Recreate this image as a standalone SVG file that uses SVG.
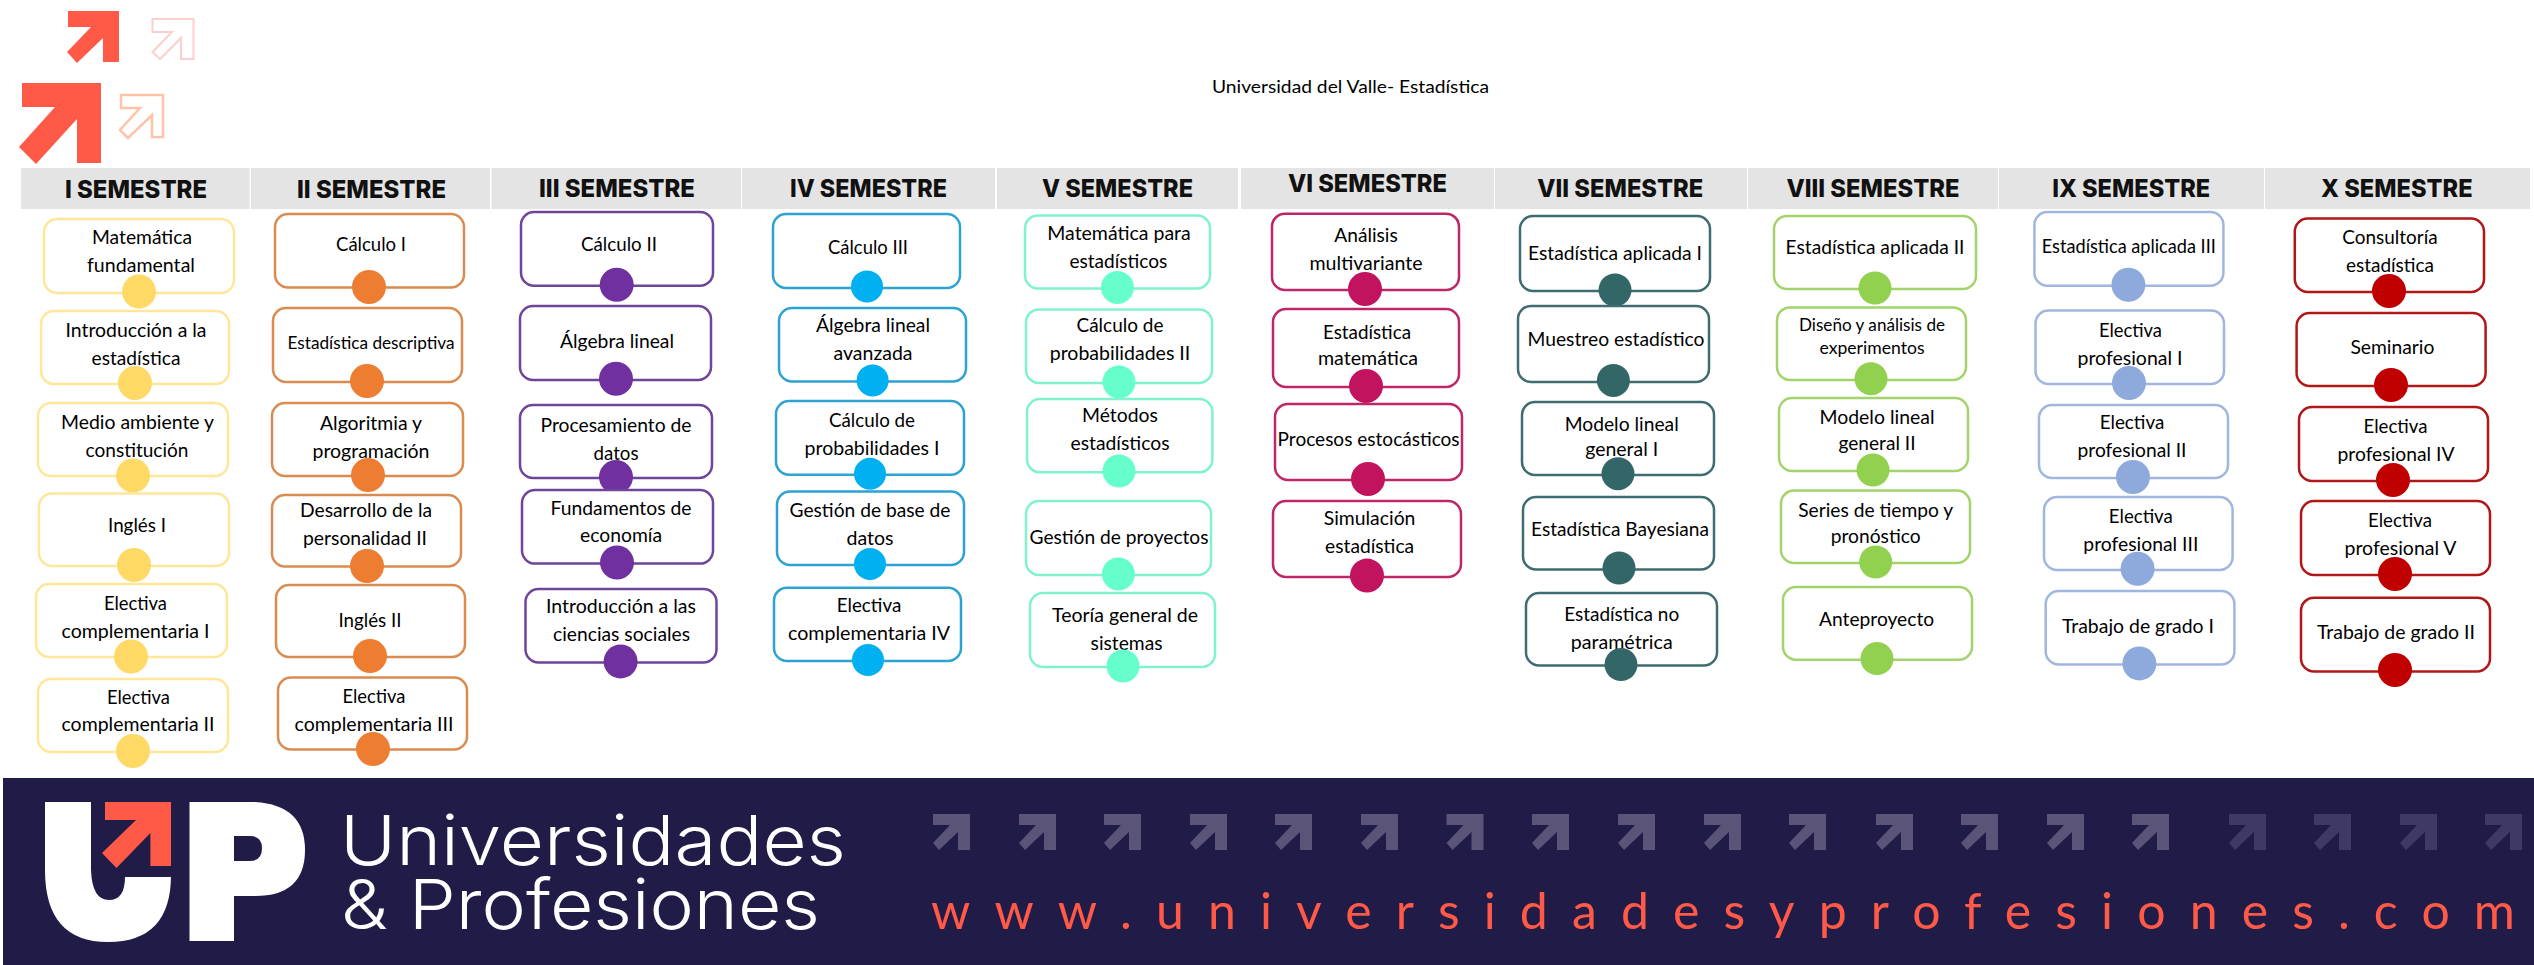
<svg xmlns="http://www.w3.org/2000/svg" width="2534" height="965" viewBox="0 0 2534 965">
<style>
rect.n{fill:#fff;stroke-width:2.5}
.l{font-family:Lato,"Liberation Sans",sans-serif;font-size:20px;fill:#000;text-anchor:middle}
.h{font-family:Inter,"Liberation Sans",sans-serif;font-size:24.5px;font-weight:800;fill:#111;text-anchor:middle}
.b{fill:#E4E4E4}
.c1 rect{stroke:#FFE699}.c1 circle{fill:#FFD966}
.c2 rect{stroke:#D98B50}.c2 circle{fill:#ED7D31}
.c3 rect{stroke:#6F4599}.c3 circle{fill:#7030A0}
.c4 rect{stroke:#2EA3D3}.c4 circle{fill:#00B0F0}
.c5 rect{stroke:#80F2D0}.c5 circle{fill:#66FFCC}
.c6 rect{stroke:#BE2668}.c6 circle{fill:#C2145E}
.c7 rect{stroke:#3F6C70}.c7 circle{fill:#336666}
.c8 rect{stroke:#A3D46C}.c8 circle{fill:#92D050}
.c9 rect{stroke:#A0B6DE}.c9 circle{fill:#8EA9DB}
.c10 rect{stroke:#B01818}.c10 circle{fill:#C00000}
.ar{fill:#5A5478}.ad{fill:#3F3A63}
</style>
<defs><polygon id="arr" points="0,0 37,0 37,36 25,36 25,18 6,36 0,29 17,11 0,11"/></defs>
<g id="top-icons">
<polygon points="68,11 119,11 119,62 103,62 103,38 77,63 67,52 91,27 68,27" fill="#FF5A47"/>
<polygon points="152.500,19 193.500,19 193.500,59 181,59 181,38 160,59 152.500,52 172,32 152.500,32" fill="#fff" stroke="#FBD0CC" stroke-width="2"/>
<polygon points="22,83 101,83 101,163 77,163 77,119 36,164 19,147 55,107 22,107" fill="#FF5A47"/>
<polygon points="121,95 163,95 163,137 152,137 152,115 128,138 120,130 140,108 121,108" fill="#fff" stroke="#FFC4A8" stroke-width="2.500"/>
</g>
<text id="title" x="1350.500" y="93" font-family="Lato,'Liberation Sans',sans-serif" font-size="18" fill="#000" text-anchor="middle" textLength="277" lengthAdjust="spacingAndGlyphs">Universidad del Valle- Estadística</text>
<g id="headers">
<rect class="b" x="21" y="168" width="228.500" height="41"/><rect class="b" x="251" y="168" width="239" height="41"/><rect class="b" x="491.500" y="168" width="249.500" height="41"/><rect class="b" x="742" y="168" width="253" height="41"/><rect class="b" x="997" y="168" width="241" height="41"/><rect class="b" x="1241" y="168" width="253" height="41"/><rect class="b" x="1495" y="168" width="252" height="41"/><rect class="b" x="1748" y="168" width="250" height="41"/><rect class="b" x="1999" y="168" width="265" height="41"/><rect class="b" x="2265" y="168" width="265" height="41"/>
<text class="h" x="136" y="198" textLength="142" lengthAdjust="spacingAndGlyphs">I SEMESTRE</text>
<text class="h" x="371.500" y="198" textLength="149" lengthAdjust="spacingAndGlyphs">II SEMESTRE</text>
<text class="h" x="617" y="197" textLength="156" lengthAdjust="spacingAndGlyphs">III SEMESTRE</text>
<text class="h" x="868.500" y="197" textLength="157" lengthAdjust="spacingAndGlyphs">IV SEMESTRE</text>
<text class="h" x="1117.500" y="197" textLength="151" lengthAdjust="spacingAndGlyphs">V SEMESTRE</text>
<text class="h" x="1367.500" y="191.500" textLength="159" lengthAdjust="spacingAndGlyphs">VI SEMESTRE</text>
<text class="h" x="1620.300" y="197" textLength="166" lengthAdjust="spacingAndGlyphs">VII SEMESTRE</text>
<text class="h" x="1873" y="197" textLength="173" lengthAdjust="spacingAndGlyphs">VIII SEMESTRE</text>
<text class="h" x="2131.200" y="197" textLength="158" lengthAdjust="spacingAndGlyphs">IX SEMESTRE</text>
<text class="h" x="2396.800" y="197" textLength="151.500" lengthAdjust="spacingAndGlyphs">X SEMESTRE</text>
</g>
<g id="col1" class="c1">
<g id="n1-1"><rect class="n" x="44" y="219" width="190" height="74" rx="13"/><text class="l" x="142" y="244" textLength="100" lengthAdjust="spacingAndGlyphs">Matemática</text><text class="l" x="141" y="272" textLength="108" lengthAdjust="spacingAndGlyphs">fundamental</text><circle cx="139" cy="291.500" r="17"/></g>
<g id="n1-2"><rect class="n" x="41" y="311" width="188" height="73" rx="13"/><text class="l" x="136" y="337" textLength="141" lengthAdjust="spacingAndGlyphs">Introducción a la</text><text class="l" x="136" y="365" textLength="89" lengthAdjust="spacingAndGlyphs">estadística</text><circle cx="135" cy="383" r="17"/></g>
<g id="n1-3"><rect class="n" x="38" y="403" width="190" height="73" rx="13"/><text class="l" x="137.500" y="429" textLength="153" lengthAdjust="spacingAndGlyphs">Medio ambiente y</text><text class="l" x="137" y="457" textLength="103" lengthAdjust="spacingAndGlyphs">constitución</text><circle cx="133" cy="475.500" r="17"/></g>
<g id="n1-4"><rect class="n" x="39" y="493.500" width="190" height="72.500" rx="13"/><text class="l" x="137" y="532" textLength="58" lengthAdjust="spacingAndGlyphs">Inglés I</text><circle cx="134" cy="565" r="17"/></g>
<g id="n1-5"><rect class="n" x="36" y="584" width="191" height="73" rx="13"/><text class="l" x="135.500" y="609.500" textLength="63" lengthAdjust="spacingAndGlyphs">Electiva</text><text class="l" x="135.500" y="637.500" textLength="148" lengthAdjust="spacingAndGlyphs">complementaria I</text><circle cx="131" cy="656.500" r="17"/></g>
<g id="n1-6"><rect class="n" x="38" y="679" width="190" height="73" rx="13"/><text class="l" x="138.500" y="703.500" textLength="63" lengthAdjust="spacingAndGlyphs">Electiva</text><text class="l" x="138" y="731" textLength="153" lengthAdjust="spacingAndGlyphs">complementaria II</text><circle cx="133" cy="751" r="17"/></g>
</g>
<g id="col2" class="c2">
<g id="n2-1"><rect class="n" x="275" y="214" width="189" height="73.500" rx="13"/><text class="l" x="371" y="251" textLength="70" lengthAdjust="spacingAndGlyphs">Cálculo I</text><circle cx="369" cy="287" r="17"/></g>
<g id="n2-2"><rect class="n" x="273" y="308" width="189" height="74" rx="13"/><text class="l" x="371" y="349" textLength="167" lengthAdjust="spacingAndGlyphs" style="font-size:17.500px">Estadística descriptiva</text><circle cx="367" cy="381" r="17"/></g>
<g id="n2-3"><rect class="n" x="272" y="403" width="191" height="73" rx="13"/><text class="l" x="371" y="430" textLength="102" lengthAdjust="spacingAndGlyphs">Algoritmia y</text><text class="l" x="371" y="458" textLength="117" lengthAdjust="spacingAndGlyphs">programación</text><circle cx="368" cy="475" r="17"/></g>
<g id="n2-4"><rect class="n" x="272" y="495" width="189" height="71.500" rx="13"/><text class="l" x="366" y="517" textLength="132" lengthAdjust="spacingAndGlyphs">Desarrollo de la</text><text class="l" x="365" y="545" textLength="124" lengthAdjust="spacingAndGlyphs">personalidad II</text><circle cx="367" cy="566" r="17"/></g>
<g id="n2-5"><rect class="n" x="276" y="585" width="189" height="72" rx="13"/><text class="l" x="370" y="627" textLength="63" lengthAdjust="spacingAndGlyphs">Inglés II</text><circle cx="370" cy="656" r="17"/></g>
<g id="n2-6"><rect class="n" x="278" y="677.500" width="189" height="72" rx="13"/><text class="l" x="374" y="703" textLength="63" lengthAdjust="spacingAndGlyphs">Electiva</text><text class="l" x="374" y="731" textLength="159" lengthAdjust="spacingAndGlyphs">complementaria III</text><circle cx="373" cy="749" r="17"/></g>
</g>
<g id="col3" class="c3">
<g id="n3-1"><rect class="n" x="521" y="212" width="192" height="73.700" rx="13"/><text class="l" x="619" y="251" textLength="76" lengthAdjust="spacingAndGlyphs">Cálculo II</text><circle cx="616.700" cy="284.700" r="17"/></g>
<g id="n3-2"><rect class="n" x="520" y="306" width="191" height="74" rx="13"/><text class="l" x="617" y="348" textLength="114" lengthAdjust="spacingAndGlyphs">Álgebra lineal</text><circle cx="616" cy="378.700" r="17"/></g>
<g id="n3-3"><rect class="n" x="520" y="405" width="192" height="73" rx="13"/><text class="l" x="616" y="432" textLength="151" lengthAdjust="spacingAndGlyphs">Procesamiento de</text><text class="l" x="616" y="460" textLength="45" lengthAdjust="spacingAndGlyphs">datos</text><circle cx="616" cy="477" r="17"/></g>
<g id="n3-4"><rect class="n" x="522" y="490" width="191" height="73.600" rx="13"/><text class="l" x="621" y="515" textLength="141" lengthAdjust="spacingAndGlyphs">Fundamentos de</text><text class="l" x="621" y="542" textLength="82" lengthAdjust="spacingAndGlyphs">economía</text><circle cx="617" cy="562.500" r="17"/></g>
<g id="n3-5"><rect class="n" x="525.500" y="589" width="191" height="73.400" rx="13"/><text class="l" x="621" y="613" textLength="150" lengthAdjust="spacingAndGlyphs">Introducción a las</text><text class="l" x="621.500" y="641" textLength="137" lengthAdjust="spacingAndGlyphs">ciencias sociales</text><circle cx="620.600" cy="661.400" r="17"/></g>
</g>
<g id="col4" class="c4">
<g id="n4-1"><rect class="n" x="773" y="214" width="187" height="74" rx="13"/><text class="l" x="868" y="254" textLength="80" lengthAdjust="spacingAndGlyphs">Cálculo III</text><circle cx="867" cy="286.400" r="16"/></g>
<g id="n4-2"><rect class="n" x="779" y="308" width="187" height="73.400" rx="13"/><text class="l" x="873" y="332" textLength="114" lengthAdjust="spacingAndGlyphs">Álgebra lineal</text><text class="l" x="873" y="360" textLength="79" lengthAdjust="spacingAndGlyphs">avanzada</text><circle cx="872.600" cy="380.400" r="16"/></g>
<g id="n4-3"><rect class="n" x="776" y="401" width="188" height="73.700" rx="13"/><text class="l" x="872" y="427" textLength="86" lengthAdjust="spacingAndGlyphs">Cálculo de</text><text class="l" x="872" y="455" textLength="135" lengthAdjust="spacingAndGlyphs">probabilidades I</text><circle cx="870" cy="473.700" r="16"/></g>
<g id="n4-4"><rect class="n" x="777" y="491.600" width="187" height="73.400" rx="13"/><text class="l" x="870" y="517" textLength="161" lengthAdjust="spacingAndGlyphs">Gestión de base de</text><text class="l" x="870" y="545" textLength="47" lengthAdjust="spacingAndGlyphs">datos</text><circle cx="870" cy="564" r="16"/></g>
<g id="n4-5"><rect class="n" x="774" y="587.700" width="187" height="73.300" rx="13"/><text class="l" x="869" y="612" textLength="64.500" lengthAdjust="spacingAndGlyphs">Electiva</text><text class="l" x="869" y="640" textLength="162" lengthAdjust="spacingAndGlyphs">complementaria IV</text><circle cx="868" cy="660" r="16"/></g>
</g>
<g id="col5" class="c5">
<g id="n5-1"><rect class="n" x="1025" y="215.400" width="185" height="73" rx="13"/><text class="l" x="1119" y="240" textLength="143.500" lengthAdjust="spacingAndGlyphs">Matemática para</text><text class="l" x="1118.400" y="268" textLength="98" lengthAdjust="spacingAndGlyphs">estadísticos</text><circle cx="1117.400" cy="287.400" r="16.500"/></g>
<g id="n5-2"><rect class="n" x="1026" y="309.400" width="186" height="73.600" rx="13"/><text class="l" x="1120" y="332" textLength="87" lengthAdjust="spacingAndGlyphs">Cálculo de</text><text class="l" x="1120" y="360" textLength="140.600" lengthAdjust="spacingAndGlyphs">probabilidades II</text><circle cx="1119" cy="382" r="16.500"/></g>
<g id="n5-3"><rect class="n" x="1027" y="399" width="185.400" height="73.300" rx="13"/><text class="l" x="1120" y="422.400" textLength="76" lengthAdjust="spacingAndGlyphs">Métodos</text><text class="l" x="1120" y="450" textLength="99" lengthAdjust="spacingAndGlyphs">estadísticos</text><circle cx="1119" cy="471" r="16.500"/></g>
<g id="n5-4"><rect class="n" x="1026" y="501" width="185" height="74" rx="13"/><text class="l" x="1119" y="544" textLength="179" lengthAdjust="spacingAndGlyphs">Gestión de proyectos</text><circle cx="1118.400" cy="574" r="16.500"/></g>
<g id="n5-5"><rect class="n" x="1030" y="593" width="185" height="74" rx="13"/><text class="l" x="1125" y="622" textLength="146" lengthAdjust="spacingAndGlyphs">Teoría general de</text><text class="l" x="1126.600" y="650" textLength="72" lengthAdjust="spacingAndGlyphs">sistemas</text><circle cx="1123" cy="666" r="16.500"/></g>
</g>
<g id="col6" class="c6">
<g id="n6-1"><rect class="n" x="1272" y="213.700" width="187" height="76.300" rx="13"/><text class="l" x="1366" y="242" textLength="63.500" lengthAdjust="spacingAndGlyphs">Análisis</text><text class="l" x="1366" y="270" textLength="113" lengthAdjust="spacingAndGlyphs">multivariante</text><circle cx="1365" cy="289" r="17"/></g>
<g id="n6-2"><rect class="n" x="1273" y="309" width="186" height="78" rx="13"/><text class="l" x="1367" y="339" textLength="88" lengthAdjust="spacingAndGlyphs">Estadística</text><text class="l" x="1368" y="365" textLength="100" lengthAdjust="spacingAndGlyphs">matemática</text><circle cx="1366" cy="386" r="17"/></g>
<g id="n6-3"><rect class="n" x="1275" y="404" width="187" height="76" rx="13"/><text class="l" x="1368.600" y="446" textLength="182" lengthAdjust="spacingAndGlyphs">Procesos estocásticos</text><circle cx="1368" cy="479" r="17"/></g>
<g id="n6-4"><rect class="n" x="1273" y="501" width="188" height="76" rx="13"/><text class="l" x="1369.600" y="525" textLength="91.600" lengthAdjust="spacingAndGlyphs">Simulación</text><text class="l" x="1369.600" y="553" textLength="89" lengthAdjust="spacingAndGlyphs">estadística</text><circle cx="1367" cy="575.600" r="17"/></g>
</g>
<g id="col7" class="c7">
<g id="n7-1"><rect class="n" x="1520" y="216" width="190" height="75" rx="13"/><text class="l" x="1615" y="260" textLength="174" lengthAdjust="spacingAndGlyphs">Estadística aplicada I</text><circle cx="1615" cy="290" r="16.500"/></g>
<g id="n7-2"><rect class="n" x="1518" y="306" width="191" height="76" rx="13"/><text class="l" x="1616" y="346" textLength="177" lengthAdjust="spacingAndGlyphs">Muestreo estadístico</text><circle cx="1613.400" cy="380.400" r="16.500"/></g>
<g id="n7-3"><rect class="n" x="1522" y="402" width="192" height="73" rx="13"/><text class="l" x="1621.700" y="431" textLength="114" lengthAdjust="spacingAndGlyphs">Modelo lineal</text><text class="l" x="1621.700" y="456" textLength="73" lengthAdjust="spacingAndGlyphs">general I</text><circle cx="1618" cy="473.700" r="16.500"/></g>
<g id="n7-4"><rect class="n" x="1523" y="497" width="191" height="72.400" rx="13"/><text class="l" x="1620" y="536" textLength="178" lengthAdjust="spacingAndGlyphs">Estadística Bayesiana</text><circle cx="1619" cy="568" r="16.500"/></g>
<g id="n7-5"><rect class="n" x="1526" y="593" width="191" height="72.500" rx="13"/><text class="l" x="1621.700" y="621.400" textLength="115" lengthAdjust="spacingAndGlyphs">Estadística no</text><text class="l" x="1621.700" y="649.300" textLength="102" lengthAdjust="spacingAndGlyphs">paramétrica</text><circle cx="1621" cy="664.500" r="16.500"/></g>
</g>
<g id="col8" class="c8">
<g id="n8-1"><rect class="n" x="1774" y="216" width="202" height="73" rx="13"/><text class="l" x="1875" y="254" textLength="179" lengthAdjust="spacingAndGlyphs">Estadística aplicada II</text><circle cx="1875" cy="288" r="16.500"/></g>
<g id="n8-2"><rect class="n" x="1777" y="307.400" width="189" height="72.600" rx="13"/><text class="l" x="1872" y="331" textLength="146" lengthAdjust="spacingAndGlyphs" style="font-size:17px">Diseño y análisis de</text><text class="l" x="1872" y="354" textLength="105" lengthAdjust="spacingAndGlyphs" style="font-size:17px">experimentos</text><circle cx="1871" cy="378.700" r="16.500"/></g>
<g id="n8-3"><rect class="n" x="1779" y="398" width="189" height="73" rx="13"/><text class="l" x="1877" y="424" textLength="115" lengthAdjust="spacingAndGlyphs">Modelo lineal</text><text class="l" x="1877" y="450" textLength="77" lengthAdjust="spacingAndGlyphs">general II</text><circle cx="1873" cy="470" r="16.500"/></g>
<g id="n8-4"><rect class="n" x="1781" y="490.600" width="189" height="72.400" rx="13"/><text class="l" x="1875.700" y="517" textLength="155" lengthAdjust="spacingAndGlyphs">Series de tiempo y</text><text class="l" x="1875.700" y="543" textLength="90" lengthAdjust="spacingAndGlyphs">pronóstico</text><circle cx="1875.700" cy="562" r="16.500"/></g>
<g id="n8-5"><rect class="n" x="1783" y="587" width="189" height="72.700" rx="13"/><text class="l" x="1876.600" y="626" textLength="115" lengthAdjust="spacingAndGlyphs">Anteproyecto</text><circle cx="1877" cy="658.600" r="16.500"/></g>
</g>
<g id="col9" class="c9">
<g id="n9-1"><rect class="n" x="2034.400" y="212" width="189" height="73.700" rx="13"/><text class="l" x="2128.800" y="253" textLength="174" lengthAdjust="spacingAndGlyphs">Estadística aplicada III</text><circle cx="2128.400" cy="284.700" r="17"/></g>
<g id="n9-2"><rect class="n" x="2035.500" y="310.500" width="188.500" height="73.500" rx="13"/><text class="l" x="2130.500" y="337" textLength="63" lengthAdjust="spacingAndGlyphs">Electiva</text><text class="l" x="2130" y="365" textLength="105" lengthAdjust="spacingAndGlyphs">profesional I</text><circle cx="2129" cy="383" r="17"/></g>
<g id="n9-3"><rect class="n" x="2039" y="405" width="189" height="73" rx="13"/><text class="l" x="2132" y="429" textLength="64.600" lengthAdjust="spacingAndGlyphs">Electiva</text><text class="l" x="2132" y="457" textLength="109" lengthAdjust="spacingAndGlyphs">profesional II</text><circle cx="2133" cy="477" r="17"/></g>
<g id="n9-4"><rect class="n" x="2044" y="497" width="188.600" height="73" rx="13"/><text class="l" x="2140.800" y="523" textLength="64" lengthAdjust="spacingAndGlyphs">Electiva</text><text class="l" x="2140.800" y="551" textLength="115" lengthAdjust="spacingAndGlyphs">profesional III</text><circle cx="2137.600" cy="568.700" r="17"/></g>
<g id="n9-5"><rect class="n" x="2045.700" y="591" width="188.700" height="73.500" rx="13"/><text class="l" x="2138" y="633" textLength="152" lengthAdjust="spacingAndGlyphs">Trabajo de grado I</text><circle cx="2139.400" cy="663.400" r="17"/></g>
</g>
<g id="col10" class="c10">
<g id="n10-1"><rect class="n" x="2294.800" y="218.500" width="189.200" height="73.500" rx="13"/><text class="l" x="2390" y="244" textLength="95.400" lengthAdjust="spacingAndGlyphs">Consultoría</text><text class="l" x="2390" y="272" textLength="88" lengthAdjust="spacingAndGlyphs">estadística</text><circle cx="2389" cy="291" r="17"/></g>
<g id="n10-2"><rect class="n" x="2296.600" y="313" width="189" height="73" rx="13"/><text class="l" x="2392.400" y="354" textLength="84" lengthAdjust="spacingAndGlyphs">Seminario</text><circle cx="2391" cy="385" r="17"/></g>
<g id="n10-3"><rect class="n" x="2299" y="407" width="189" height="74" rx="13"/><text class="l" x="2395.500" y="432.700" textLength="64" lengthAdjust="spacingAndGlyphs">Electiva</text><text class="l" x="2396" y="461" textLength="117" lengthAdjust="spacingAndGlyphs">profesional IV</text><circle cx="2393" cy="480" r="17"/></g>
<g id="n10-4"><rect class="n" x="2301" y="501" width="189" height="74" rx="13"/><text class="l" x="2400" y="527" textLength="64" lengthAdjust="spacingAndGlyphs">Electiva</text><text class="l" x="2400.500" y="555" textLength="112" lengthAdjust="spacingAndGlyphs">profesional V</text><circle cx="2395" cy="574" r="17"/></g>
<g id="n10-5"><rect class="n" x="2301" y="597.700" width="189" height="73.700" rx="13"/><text class="l" x="2396" y="639" textLength="158" lengthAdjust="spacingAndGlyphs">Trabajo de grado II</text><circle cx="2395" cy="670" r="17"/></g>
</g>
<g id="footer">
<rect x="3" y="778" width="2531" height="187" fill="#211C47"/>
<path fill="#fff" d="M45,802 H91 V870 Q92,900 109,900 Q125,900 125,877 H171 V875 Q171,942 108,942 Q45,942 45,870 Z"/>
<path fill="#fff" fill-rule="evenodd" d="M189.500,802 H255 Q305,805 305,850 Q305,896 255,896 H234 V941 H189.500 Z M234,836 H250 Q262,836 262,848 Q262,861 250,861 H234 Z"/>
<polygon fill="#FF5A47" points="105,802 171,802 171,866 150.400,866 150.400,833 116.500,868 102,853 136,820 105,820"/>
<text x="340" y="865" font-family="Inter,'Liberation Sans',sans-serif" font-weight="300" font-size="69" fill="#fff" textLength="506" lengthAdjust="spacingAndGlyphs">Universidades</text>
<text x="341" y="929" font-family="Inter,'Liberation Sans',sans-serif" font-weight="300" font-size="69" fill="#fff" textLength="479" lengthAdjust="spacingAndGlyphs">&amp; Profesiones</text>
<g id="arrows">
<use href="#arr" class="ar" x="933" y="814"/><use href="#arr" class="ar" x="1019" y="814"/><use href="#arr" class="ar" x="1104" y="814"/><use href="#arr" class="ar" x="1190" y="814"/><use href="#arr" class="ar" x="1275" y="814"/><use href="#arr" class="ar" x="1361" y="814"/><use href="#arr" class="ar" x="1446.500" y="814"/><use href="#arr" class="ar" x="1532" y="814"/><use href="#arr" class="ar" x="1618" y="814"/><use href="#arr" class="ar" x="1704" y="814"/><use href="#arr" class="ar" x="1789" y="814"/><use href="#arr" class="ar" x="1876" y="814"/><use href="#arr" class="ar" x="1961" y="814"/><use href="#arr" class="ar" x="2047" y="814"/><use href="#arr" class="ar" x="2132" y="814"/>
<use href="#arr" class="ad" x="2229" y="814"/><use href="#arr" class="ad" x="2314" y="814"/><use href="#arr" class="ad" x="2400" y="814"/><use href="#arr" class="ad" x="2485" y="814"/>
</g>
<text x="931" y="929" font-family="Lato,'Liberation Sans',sans-serif" font-size="50" fill="#FF5A47" textLength="1584" lengthAdjust="spacing">www.universidadesyprofesiones.com</text>
</g>
</svg>
